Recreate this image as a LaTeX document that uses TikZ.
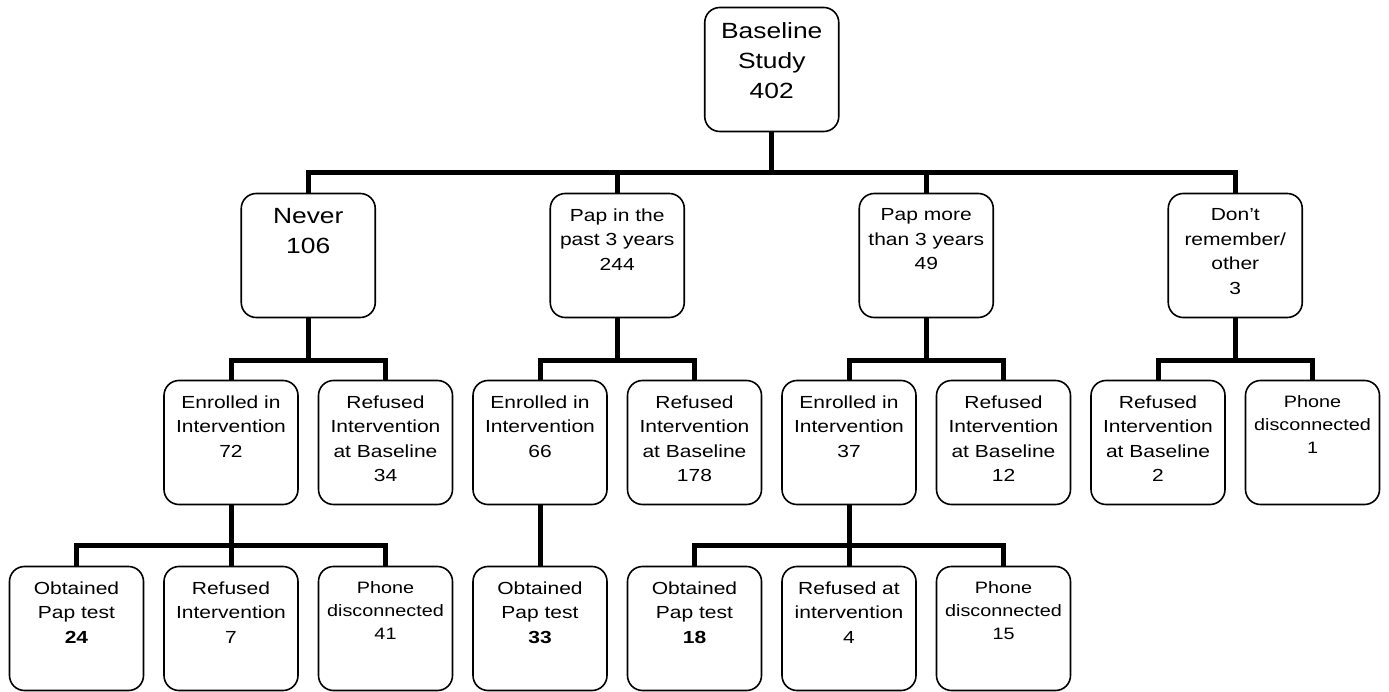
\documentclass[tikz,border=0pt]{standalone}
\usepackage{fontspec}
\setmainfont{Liberation Sans}[FakeStretch=1.2]
\newcommand\fbig{\fontsize{22}{30}\selectfont}
\newcommand\fmid{\fontsize{17.5}{24.5}\selectfont}
\newcommand\fsml{\fontsize{16.5}{23}\selectfont}
\newcommand\bt[2]{\parbox[c][94pt][t]{134pt}{\centering#1#2\par}}
\tikzset{
  box/.style={draw, line width=1.6pt, rounded corners=15pt, fill=white,
    minimum width=132pt, minimum height=124pt, inner sep=0pt},
  conn/.style={line width=5pt}
}
\begin{document}
\begin{tikzpicture}[x=1pt,y=-1pt]
\useasboundingbox (0,0) rectangle (1389,692);
% nodes
\node[box] (top) at (771.75,69.5) {\bt{\fbig}{Baseline\\Study\\402}};
\node[box] (n1) at (308.25,255.5) {\bt{\fbig}{Never\\106}};
\node[box] (n2) at (617.25,255.5) {\bt{\fmid}{Pap in the\\past 3 years\\244}};
\node[box] (n3) at (926.25,255.5) {\bt{\fmid}{Pap more\\than 3 years\\49}};
\node[box] (n4) at (1235.25,255.5) {\bt{\fmid}{Don’t\\remember/\\other\\3}};
\node[box] (a1) at (231,442.5) {\bt{\fmid}{Enrolled in\\Intervention\\72}};
\node[box] (a2) at (385.5,442.5) {\bt{\fmid}{Refused\\Intervention\\at Baseline\\34}};
\node[box] (a3) at (540,442.5) {\bt{\fmid}{Enrolled in\\Intervention\\66}};
\node[box] (a4) at (694.5,442.5) {\bt{\fmid}{Refused\\Intervention\\at Baseline\\178}};
\node[box] (a5) at (849,442.5) {\bt{\fmid}{Enrolled in\\Intervention\\37}};
\node[box] (a6) at (1003.5,442.5) {\bt{\fmid}{Refused\\Intervention\\at Baseline\\12}};
\node[box] (a7) at (1158,442.5) {\bt{\fmid}{Refused\\Intervention\\at Baseline\\2}};
\node[box] (a8) at (1312.5,442.5) {\bt{\fsml}{Phone\\disconnected\\1}};
\node[box] (b0) at (76.5,628.5) {\bt{\fmid}{Obtained\\Pap test\\\textbf{24}}};
\node[box] (b1) at (231,628.5) {\bt{\fmid}{Refused\\Intervention\\7}};
\node[box] (b2) at (385.5,628.5) {\bt{\fsml}{Phone\\disconnected\\41}};
\node[box] (b3) at (540,628.5) {\bt{\fmid}{Obtained\\Pap test\\\textbf{33}}};
\node[box] (b4) at (694.5,628.5) {\bt{\fmid}{Obtained\\Pap test\\\textbf{18}}};
\node[box] (b5) at (849,628.5) {\bt{\fmid}{Refused at\\intervention\\4}};
\node[box] (b6) at (1003.5,628.5) {\bt{\fsml}{Phone\\disconnected\\15}};
% bar coordinates
\coordinate (t0) at (771.75,173);
\coordinate (m1) at (308.25,361);
\coordinate (m2) at (617.25,361);
\coordinate (m3) at (926.25,361);
\coordinate (m4) at (1235.25,361);
\coordinate (e1) at (231,545);
\coordinate (e5) at (849,545);
% connectors (behind boxes)
\begin{scope}[on background layer/.style={}]
\end{scope}
\foreach \c in {n1,n2,n3,n4} \draw[conn] (top.south) -- (t0) -| (\c.north);
\draw[conn] (n1.south) -- (m1) -| (a1.north);
\draw[conn] (n1.south) -- (m1) -| (a2.north);
\draw[conn] (n2.south) -- (m2) -| (a3.north);
\draw[conn] (n2.south) -- (m2) -| (a4.north);
\draw[conn] (n3.south) -- (m3) -| (a5.north);
\draw[conn] (n3.south) -- (m3) -| (a6.north);
\draw[conn] (n4.south) -- (m4) -| (a7.north);
\draw[conn] (n4.south) -- (m4) -| (a8.north);
\foreach \c in {b0,b1,b2} \draw[conn] (a1.south) -- (e1) -| (\c.north);
\draw[conn] (a3.south) -- (b3.north);
\foreach \c in {b4,b5,b6} \draw[conn] (a5.south) -- (e5) -| (\c.north);
\end{tikzpicture}
\end{document}
